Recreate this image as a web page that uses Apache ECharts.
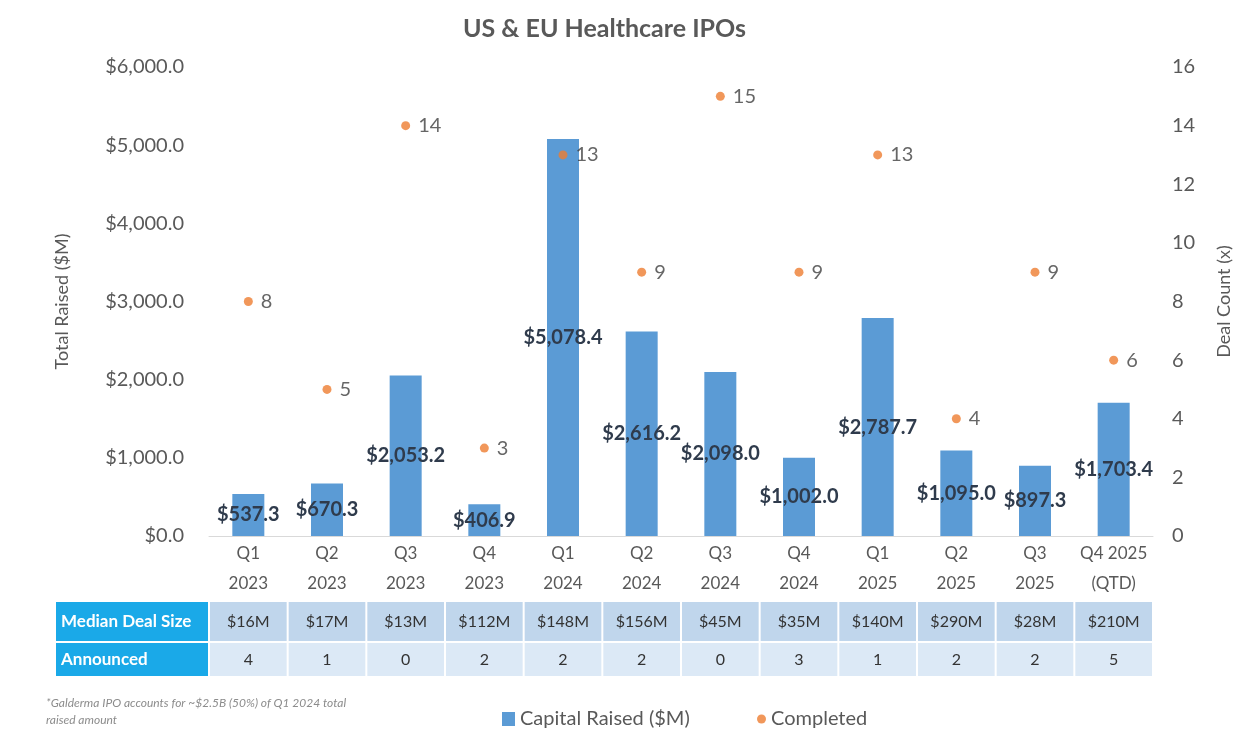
<!DOCTYPE html>
<html>
<head>
<meta charset="utf-8">
<script src="https://cdn.jsdelivr.net/npm/echarts@6/dist/echarts.min.js"></script>
<style>
  html, body { margin: 0; padding: 0; background: #fff; }
  #main { width: 1255px; height: 748px; }
</style>
</head>
<body>
<div id="main"></div>
<script>
// chart data
var quarters = ['Q1\n2023', 'Q2\n2023', 'Q3\n2023', 'Q4\n2023', 'Q1\n2024', 'Q2\n2024',
                'Q3\n2024', 'Q4\n2024', 'Q1\n2025', 'Q2\n2025', 'Q3\n2025', 'Q4 2025\n(QTD)'];
var capitalRaised = [537.3, 670.3, 2053.2, 406.9, 5078.4, 2616.2, 2098.0, 1002.0, 2787.7, 1095.0, 897.3, 1703.4];
var completed = [8, 5, 14, 3, 13, 9, 15, 9, 13, 4, 9, 6];
var medianDealSize = ['$16M', '$17M', '$13M', '$112M', '$148M', '$156M', '$45M', '$35M', '$140M', '$290M', '$28M', '$210M'];
var announced = ['4', '1', '0', '2', '2', '2', '0', '3', '1', '2', '2', '5'];
var tableRows = ['Median Deal Size', 'Announced'];

var FONT = 'Lato';
var gridLeft = 209, gridRight = 102, gridTop = 67, gridBottom = 212;
var plotW = 1255 - gridLeft - gridRight;

function money(v) {
  return '$' + v.toLocaleString('en-US', {minimumFractionDigits: 1, maximumFractionDigits: 1});
}

// table under the x axis, drawn as graphic rects lined up with the categories
var graphics = [];
var rowTops = [602, 643];
var rowHeights = [39, 33];
var rowVals = [medianDealSize, announced];
var rowFills = ['#c0d6ec', '#dce9f6'];
var colW = plotW / quarters.length;
for (var r = 0; r < tableRows.length; r++) {
  graphics.push({
    type: 'rect',
    shape: {x: 56, y: rowTops[r], width: gridLeft - 56 - 1, height: rowHeights[r]},
    style: {fill: '#1aa9e8'}
  });
  graphics.push({
    type: 'text',
    x: 61, y: rowTops[r] + rowHeights[r] / 2,
    style: {text: tableRows[r], fill: '#fff', font: 'bold 17px ' + FONT, verticalAlign: 'middle'}
  });
  for (var c = 0; c < quarters.length; c++) {
    var cx = gridLeft + c * colW;
    graphics.push({
      type: 'rect',
      shape: {x: cx + 1, y: rowTops[r], width: colW - 2, height: rowHeights[r]},
      style: {fill: rowFills[r]}
    });
    graphics.push({
      type: 'text',
      x: cx + colW / 2, y: rowTops[r] + rowHeights[r] / 2,
      style: {text: rowVals[r][c], fill: '#333', font: '16px ' + FONT, align: 'center', verticalAlign: 'middle'}
    });
  }
}
graphics.push({
  type: 'text',
  left: 46, top: 695,
  style: {
    text: '*Galderma IPO accounts for ~$2.5B (50%) of Q1 2024 total\nraised amount',
    fill: '#8c8c8c', font: 'italic 12px ' + FONT, lineHeight: 17
  }
});

var chart = echarts.init(document.getElementById('main'));
chart.setOption({
  animation: false,
  textStyle: {fontFamily: FONT},
  title: {
    text: 'US & EU Healthcare IPOs',
    left: 458, top: 11,
    textStyle: {fontSize: 25, fontWeight: 'bold', color: '#595959', fontFamily: FONT}
  },
  grid: {left: gridLeft, right: gridRight, top: gridTop, bottom: gridBottom},
  legend: [{
    data: [{name: 'Capital Raised ($M)', icon: 'rect'}],
    left: 497, top: 704,
    itemWidth: 13, itemHeight: 14, itemGap: 6,
    textStyle: {fontSize: 20, color: '#595959', fontFamily: FONT}
  }, {
    data: [{name: 'Completed', icon: 'circle'}],
    left: 752, top: 704,
    itemWidth: 9, itemHeight: 9, itemGap: 6,
    textStyle: {fontSize: 20, color: '#595959', fontFamily: FONT}
  }],
  xAxis: {
    type: 'category',
    data: quarters,
    axisLine: {lineStyle: {color: '#d9d9d9', width: 1}},
    axisTick: {show: false},
    axisLabel: {color: '#595959', fontSize: 17, lineHeight: 30, margin: 3, interval: 0}
  },
  yAxis: [{
    type: 'value',
    min: 0, max: 6000, interval: 1000,
    name: 'Total Raised ($M)',
    nameLocation: 'middle', nameGap: 138,
    nameTextStyle: {fontSize: 18, color: '#595959'},
    splitLine: {show: false},
    axisLabel: {color: '#595959', fontSize: 20, margin: 25, formatter: function (v) { return money(v); }}
  }, {
    type: 'value',
    min: 0, max: 16, interval: 2,
    name: 'Deal Count (x)',
    nameLocation: 'middle', nameGap: 62,
    nameTextStyle: {fontSize: 18, color: '#595959'},
    splitLine: {show: false},
    axisLabel: {color: '#595959', fontSize: 20, margin: 19}
  }],
  series: [{
    name: 'Capital Raised ($M)',
    type: 'bar',
    data: capitalRaised,
    barWidth: 32,
    itemStyle: {color: '#5b9bd5'},
    label: {
      show: true,
      position: 'inside',
      color: '#2f3b4c',
      fontWeight: 'bold',
      fontSize: 20,
      formatter: function (p) { return money(p.value); }
    }
  }, {
    name: 'Completed',
    type: 'scatter',
    yAxisIndex: 1,
    data: completed,
    symbolSize: 9,
    itemStyle: {color: '#ed7d31'},
    label: {show: true, position: 'right', distance: 8, color: '#404040', fontSize: 20}
  }],
  graphic: graphics
});
</script>
</body>
</html>
